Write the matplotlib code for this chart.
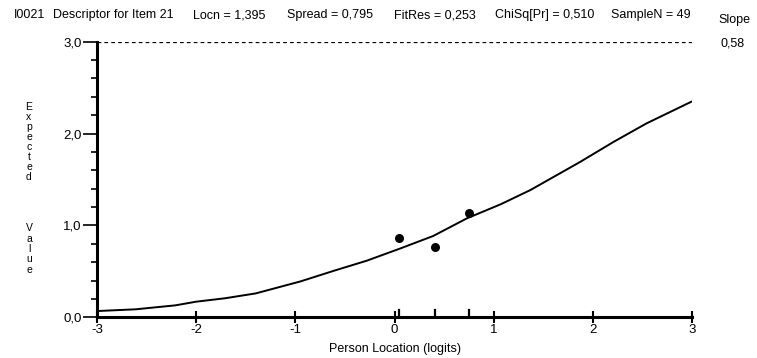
import matplotlib
matplotlib.use("Agg")
import matplotlib.pyplot as plt
from matplotlib.ticker import MultipleLocator

plt.rcParams["font.family"] = ["Liberation Sans", "DejaVu Sans"]

# expected value curve
curve_x = [-3.0, -2.61, -2.21, -2.0, -1.71, -1.40, -0.95, -0.61, -0.28, 0.06, 0.39, 0.73, 1.07, 1.37, 1.87, 2.21, 2.54, 3.0]
curve_y = [0.068, 0.087, 0.13, 0.17, 0.207, 0.26, 0.39, 0.507, 0.616, 0.75, 0.885, 1.077, 1.23, 1.385, 1.69, 1.91, 2.11, 2.35]

# observed class means
obs_x = [0.05, 0.41, 0.75]
obs_y = [0.865, 0.77, 1.14]

x_ticks = [-3, -2, -1, 0, 1, 2, 3]
x_tick_labels = ["-3", "-2", "-1", "0", "1", "2", "3"]
y_ticks = [0.0, 1.0, 2.0, 3.0]
y_tick_labels = ["0,0", "1,0", "2,0", "3,0"]

header = [
    (14, "I0021"),
    (53, "Descriptor for Item 21"),
    (193, "Locn = 1,395"),
    (287, "Spread = 0,795"),
    (394, "FitRes = 0,253"),
    (495, "ChiSq[Pr] = 0,510"),
    (611, "SampleN = 49"),
]

W, H = 757, 358
fig = plt.figure(figsize=(W / 100, H / 100), dpi=100)
fig.patch.set_facecolor("white")
ax = fig.add_axes([97 / W, (H - 317.3) / H, (692 - 97) / W, (317.3 - 41.7) / H])

ax.plot(curve_x, curve_y, color="black", lw=1.4)
ax.scatter(obs_x, obs_y, s=30, color="black", zorder=3)
ax.axhline(3.0, color="black", lw=0.9, ls=(0, (3, 2.5)))

# class interval marks on the x axis
for xv in obs_x:
    ax.plot([xv, xv], [0, 0.08], color="black", lw=1.6, clip_on=False)

ax.set_xlim(-3, 3)
ax.set_ylim(0, 3)
for side in ["top", "right"]:
    ax.spines[side].set_visible(False)
for side in ["left", "bottom"]:
    ax.spines[side].set_linewidth(2.2)

ax.set_xticks(x_ticks)
ax.set_xticklabels(x_tick_labels, fontsize=9.5)
ax.set_yticks(y_ticks)
ax.set_yticklabels(y_tick_labels, fontsize=9.5)
ax.yaxis.set_minor_locator(MultipleLocator(0.2))
ax.tick_params(axis="x", direction="inout", length=8, width=1.5, pad=1)
ax.tick_params(axis="y", which="major", direction="out", length=10, width=1.2, pad=1)
ax.tick_params(axis="y", which="minor", direction="out", length=4, width=1.2)

fig.text(395 / W, 1 - 349 / H, "Person Location (logits)", fontsize=9, ha="center", va="center")

# stacked y label
for i, ch in enumerate("Expected"):
    fig.text(29 / W, 1 - (107 + i * 10) / H, ch, fontsize=7.5, ha="center", va="center")
for i, ch in enumerate("Value"):
    fig.text(29 / W, 1 - (228 + i * 10.5) / H, ch, fontsize=7.5, ha="center", va="center")

for xp, s in header:
    fig.text(xp / W, 1 - 15 / H, s, fontsize=9, ha="left", va="center")
fig.text(734 / W, 1 - 20 / H, "Slope", fontsize=9, ha="center", va="center")
fig.text(745 / W, 1 - 43 / H, "0,58", fontsize=9, ha="right", va="center")

fig.savefig("out.png", dpi=100)
